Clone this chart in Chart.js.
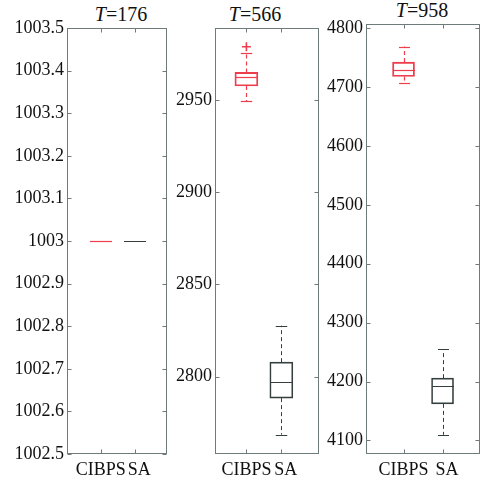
<!DOCTYPE html>
<html>
<head>
<meta charset="utf-8">
<script src="https://cdn.jsdelivr.net/npm/chart.js@4.4.0/dist/chart.umd.min.js"></script>
<style>
  body { margin: 0; background: #fff; width: 485px; height: 480px; position: relative; overflow: hidden; }
  .panel { position: absolute; top: 0; }
  .title { position: absolute; width: 100px; text-align: center; font: 20px/20px 'Liberation Serif', serif; color: #111; white-space: nowrap; }
</style>
</head>
<body>
<div class="title" style="left:71px; top:4px"><i>T</i>=176</div>
<div class="title" style="left:205px; top:4px"><i>T</i>=566</div>
<div class="title" style="left:372px; top:0px"><i>T</i>=958</div>
<canvas class="panel" id="c176" width="170" height="480" style="left:0px"></canvas>
<canvas class="panel" id="c566" width="155" height="480" style="left:170px"></canvas>
<canvas class="panel" id="c958" width="158" height="480" style="left:325px"></canvas>
<script>
const categories = ['CIBPS', 'SA'];
const boxColors = ['rgb(238, 62, 78)', 'rgb(52, 62, 62)'];
const boxLineWidths = [1.2, 1];
const frameColor = '#6f7b7b';

// T=176
const yTicks176 = [1002.5, 1002.6, 1002.7, 1002.8, 1002.9, 1003, 1003.1, 1003.2, 1003.3, 1003.4, 1003.5];
const low176 = [1003, 1003];
const q1_176 = [1003, 1003];
const med176 = [1003, 1003];
const q3_176 = [1003, 1003];
const high176 = [1003, 1003];
const out176 = [[], []];

// T=566
const yTicks566 = [2800, 2850, 2900, 2950];
const low566 = [2949.2, 2768.5];
const q1_566 = [2957.6, 2788.3];
const med566 = [2962.6, 2796.8];
const q3_566 = [2964.9, 2807.8];
const high566 = [2975.7, 2827.6];
const out566 = [[2978.8], []];

// T=958
const yTicks958 = [4100, 4200, 4300, 4400, 4500, 4600, 4700, 4800];
const low958 = [4706.6, 4109.5];
const q1_958 = [4717.8, 4162.1];
const med958 = [4729.2, 4193.2];
const q3_958 = [4742.3, 4205.8];
const high958 = [4768.8, 4255.0];
const out958 = [[], []];

// whiskers, caps and medians, on top of the floating bars
const boxParts = {
  id: 'boxParts',
  afterDatasetsDraw(chart, args, opts) {
    const y = chart.scales.y;
    const ctx = chart.ctx;
    const seg = (x1, y1, x2, y2) => {
      ctx.beginPath();
      ctx.moveTo(x1, y1);
      ctx.lineTo(x2, y2);
      ctx.stroke();
    };
    ctx.save();
    chart.getDatasetMeta(0).data.forEach((bar, i) => {
      const half = bar.width / 2;
      const x = Math.round(bar.x) + 0.5;
      const yLow = y.getPixelForValue(opts.low[i]);
      const yQ1 = y.getPixelForValue(opts.q1[i]);
      const yMed = Math.round(y.getPixelForValue(opts.med[i])) + 0.5;
      const yQ3 = y.getPixelForValue(opts.q3[i]);
      const yHigh = y.getPixelForValue(opts.high[i]);
      ctx.strokeStyle = boxColors[i];
      ctx.lineWidth = boxLineWidths[i];
      ctx.setLineDash([4, 3]);
      if (opts.high[i] > opts.q3[i]) seg(x, yQ3, x, yHigh);
      if (opts.low[i] < opts.q1[i]) seg(x, yQ1, x, yLow);
      ctx.setLineDash([]);
      if (opts.high[i] > opts.q3[i]) seg(x - half / 2, Math.round(yHigh) + 0.5, x + half / 2, Math.round(yHigh) + 0.5);
      if (opts.low[i] < opts.q1[i]) seg(x - half / 2, Math.round(yLow) + 0.5, x + half / 2, Math.round(yLow) + 0.5);
      seg(Math.round(bar.x - half), yMed, Math.round(bar.x + half), yMed);
    });
    ctx.restore();
  }
};

// closed frame with inward ticks on all four sides
const frame = {
  id: 'frame',
  afterDraw(chart) {
    const { left, right, top, bottom } = chart.chartArea;
    const ctx = chart.ctx;
    const l = Math.round(left) - 0.5, r = Math.round(right) - 0.5;
    const t = Math.round(top) + 0.5, b = Math.round(bottom) - 0.5;
    ctx.save();
    ctx.strokeStyle = frameColor;
    ctx.lineWidth = 1;
    ctx.strokeRect(l, t, r - l, b - t);
    ctx.beginPath();
    chart.scales.y.ticks.forEach(tk => {
      const py = Math.round(chart.scales.y.getPixelForValue(tk.value)) + 0.5;
      ctx.moveTo(l, py); ctx.lineTo(l + 4, py);
      ctx.moveTo(r, py); ctx.lineTo(r - 4, py);
    });
    chart.scales.x.ticks.forEach(tk => {
      const px = Math.round(chart.scales.x.getPixelForValue(tk.value)) + 0.5;
      ctx.moveTo(px, b); ctx.lineTo(px, b - 4);
      ctx.moveTo(px, t); ctx.lineTo(px, t + 4);
    });
    ctx.stroke();
    ctx.restore();
  }
};

function boxChart(id, p) {
  const datasets = [{
    type: 'bar',
    data: categories.map((c, i) => ({ x: i + 1, y: [p.q1[i], p.q3[i]] })),
    backgroundColor: 'rgba(0,0,0,0)',
    borderColor: boxColors,
    borderWidth: boxLineWidths,
    borderSkipped: false,
    barThickness: p.boxWidth
  }];
  p.out.forEach((vals, i) => {
    if (!vals.length) return;
    datasets.push({
      type: 'scatter',
      data: vals.map(v => ({ x: i + 1, y: v })),
      pointStyle: 'cross',
      pointRadius: 4.5,
      borderColor: boxColors[i],
      borderWidth: 1.6
    });
  });
  return new Chart(document.getElementById(id), {
    type: 'bar',
    data: { datasets: datasets },
    options: {
      responsive: false,
      animation: false,
      layout: { padding: { top: p.top, right: 3, left: 0, bottom: 0 } },
      plugins: {
        legend: { display: false },
        tooltip: { enabled: false },
        boxParts: { low: p.low, q1: p.q1, med: p.med, q3: p.q3, high: p.high }
      },
      scales: {
        x: {
          type: 'linear',
          min: p.xMin,
          max: p.xMax,
          offset: false,
          grid: { display: false, drawTicks: false, offset: false },
          border: { display: false },
          afterBuildTicks: s => { s.ticks = categories.map((c, i) => ({ value: i + 1 })); },
          afterFit: s => { s.height = 26; },
          ticks: {
            padding: 5,
            maxRotation: 0,
            autoSkip: false,
            color: '#111',
            font: { family: "'Liberation Serif', serif", size: 18 },
            // the second name sits a little right of its tick, as in the source figure
            callback: v => (v > 1 ? '\u00a0\u00a0' : '') + categories[v - 1]
          }
        },
        y: {
          min: p.yMin,
          max: p.yMax,
          grid: { display: false, drawTicks: false },
          border: { display: false },
          afterBuildTicks: s => { s.ticks = p.yTicks.map(v => ({ value: v })); },
          afterFit: s => { s.width = p.axisWidth; },
          ticks: {
            padding: 4,
            color: '#111',
            font: { family: "'Liberation Serif', serif", size: 18 },
            callback: v => String(v)
          }
        }
      }
    },
    plugins: [boxParts, frame]
  });
}

boxChart('c176', {
  low: low176, q1: q1_176, med: med176, q3: q3_176, high: high176, out: out176,
  yTicks: yTicks176, yMin: 1002.5, yMax: 1003.5, xMin: 0.038, xMax: 2.95,
  top: 28, axisWidth: 68, boxWidth: 22
});
boxChart('c566', {
  low: low566, q1: q1_566, med: med566, q3: q3_566, high: high566, out: out566,
  yTicks: yTicks566, yMin: 2758, yMax: 2989, xMin: 0.13, xMax: 3.075,
  top: 28, axisWidth: 46, boxWidth: 23
});
boxChart('c958', {
  low: low958, q1: q1_958, med: med958, q3: q3_958, high: high958, out: out958,
  yTicks: yTicks958, yMin: 4077, yMax: 4807, xMin: 0.064, xMax: 2.96,
  top: 24, axisWidth: 42, boxWidth: 22
});
</script>
</body>
</html>
